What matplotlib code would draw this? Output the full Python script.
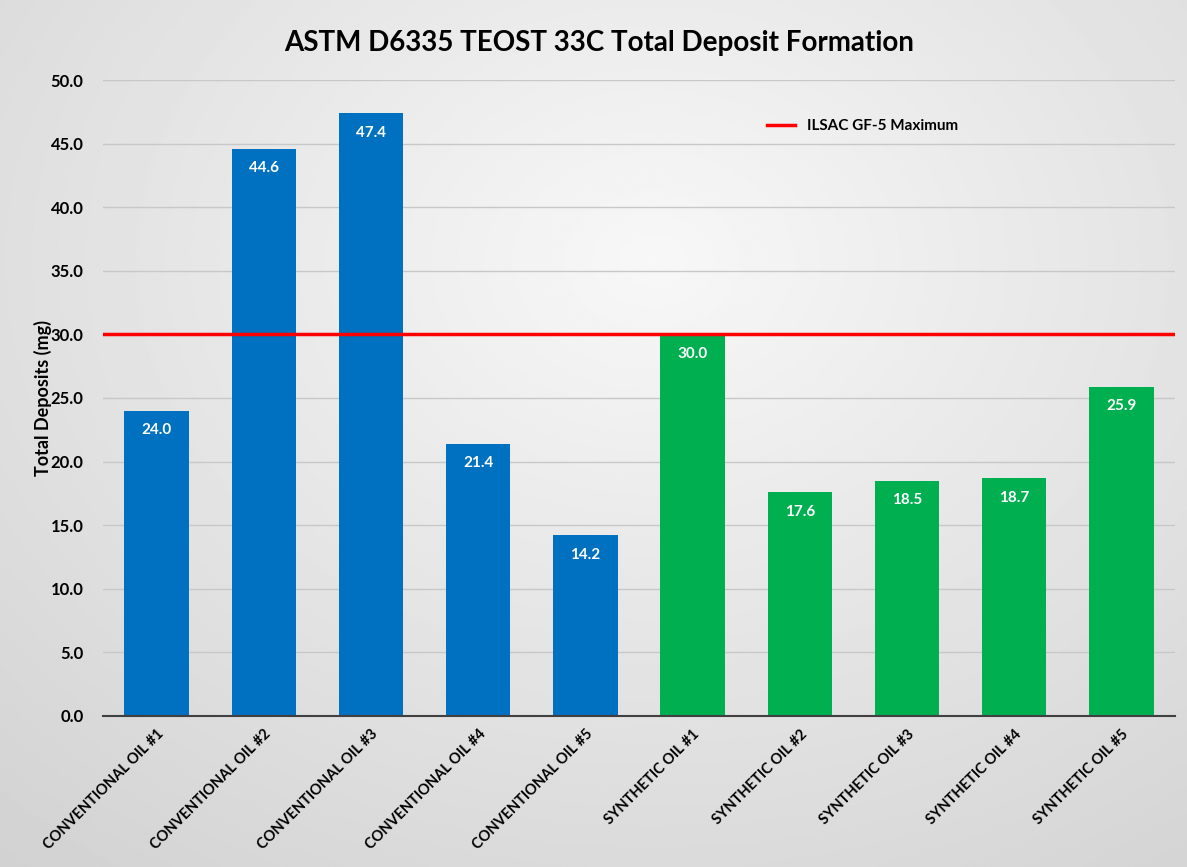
import numpy as np
import matplotlib
matplotlib.use("Agg")
from matplotlib import pyplot as plt

# data
categories = ["CONVENTIONAL OIL #1", "CONVENTIONAL OIL #2", "CONVENTIONAL OIL #3",
              "CONVENTIONAL OIL #4", "CONVENTIONAL OIL #5",
              "SYNTHETIC OIL #1", "SYNTHETIC OIL #2", "SYNTHETIC OIL #3",
              "SYNTHETIC OIL #4", "SYNTHETIC OIL #5"]
conventional = [24.0, 44.6, 47.4, 21.4, 14.2]
synthetic = [30.0, 17.6, 18.5, 18.7, 25.9]
gf5_max = 30.0
yticks = [0, 5, 10, 15, 20, 25, 30, 35, 40, 45, 50]

plt.rcParams['font.family'] = ['Lato', 'DejaVu Sans']
plt.rcParams['font.weight'] = 'bold'

fig = plt.figure(figsize=(11.87, 8.67), dpi=100)

# gray background with lighter centre
bg = fig.add_axes([0, 0, 1, 1], zorder=-10)
yy, xx = np.mgrid[0:1:300j, 0:1:400j]
r = np.sqrt(((xx - 0.55) / 0.75) ** 2 + ((yy - 0.3) / 0.8) ** 2)
shade = 0.97 - 0.13 * np.clip(r, 0, 1.2)
bg.imshow(shade, cmap='gray', vmin=0, vmax=1, aspect='auto', extent=[0, 1, 1, 0])
bg.axis('off')

ax = fig.add_axes([0.0868, 0.1742, 0.9031, 0.7335])
ax.set_facecolor('none')

x = np.arange(len(categories))
values = conventional + synthetic
colors = ['#0070C0'] * len(conventional) + ['#00B050'] * len(synthetic)
bars = ax.bar(x, values, width=0.6, color=colors, zorder=2)

for xi, v in zip(x, values):
    ax.annotate(f"{v:.1f}", (xi, v), xytext=(0, -14), textcoords='offset points',
                ha='center', va='center', color='white', fontsize=11,
                fontweight='bold', zorder=4)

ax.plot([-0.5, len(categories) - 0.5], [gf5_max, gf5_max], color='#FF0000',
        lw=2.5, label='ILSAC GF-5 Maximum', zorder=3)

ax.set_xlim(-0.5, len(categories) - 0.5)
ax.set_ylim(0, 50)
ax.set_yticks(yticks)
ax.set_yticklabels([f"{t:.1f}" for t in yticks], fontsize=12, fontweight='bold')
ax.set_xticks(x)
ax.set_xticklabels(categories, rotation=45, ha='right', rotation_mode='anchor',
                   fontsize=10.5, fontweight='bold')
ax.tick_params(axis='both', length=0, pad=14)
ax.tick_params(axis='x', pad=8)

ax.grid(axis='y', color='#c8c8c8', lw=1, zorder=0)
for s in ['top', 'right', 'left']:
    ax.spines[s].set_visible(False)
ax.spines['bottom'].set_color('#404040')
ax.spines['bottom'].set_linewidth(1.5)
ax.spines['bottom'].set_zorder(3)

ax.set_ylabel("Total Deposits (mg)", fontsize=13, fontweight='bold', labelpad=-1)

ax.legend(loc='upper left', bbox_to_anchor=(0.607, 0.96), frameon=False,
          prop={'weight': 'bold', 'size': 11}, handlelength=1.8)

fig.suptitle("ASTM D6335 TEOST 33C Total Deposit Formation", x=0.505, y=0.965,
             fontsize=20, fontweight='bold')

fig.savefig("out.png", dpi=100)
